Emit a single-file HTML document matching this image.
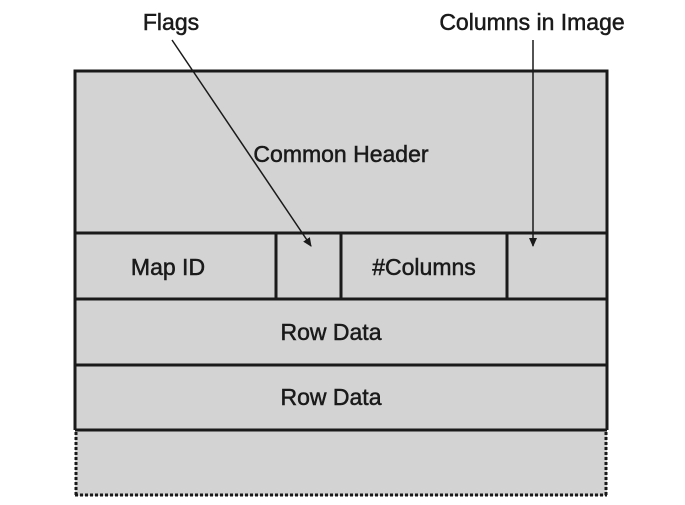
<!DOCTYPE html>
<html><head><meta charset="utf-8"><style>
html,body{margin:0;padding:0;background:#fff;}
svg{display:block}
text{font-family:"Liberation Sans",sans-serif;font-size:23px;fill:#1a1a1a;stroke:#1a1a1a;stroke-width:0.5;}
</style></head><body>
<svg width="685" height="505" viewBox="0 0 685 505">
<defs><marker id="a" markerWidth="10" markerHeight="10" refX="8" refY="4" orient="auto" markerUnits="userSpaceOnUse"><path d="M0,0 L9,4 L0,8 z" fill="#1a1a1a"/></marker></defs>
<rect x="75" y="71" width="532" height="425" fill="#d3d3d3"/>
<g stroke="#1a1a1a" stroke-width="3" fill="none">
<path d="M75,430 L75,71 L607,71 L607,430"/>
<line x1="75" y1="233" x2="607" y2="233"/>
<line x1="75" y1="299" x2="607" y2="299"/>
<line x1="75" y1="365" x2="607" y2="365"/>
<line x1="75" y1="430" x2="607" y2="430"/>
<line x1="276" y1="233" x2="276" y2="299"/>
<line x1="341" y1="233" x2="341" y2="299"/>
<line x1="507" y1="233" x2="507" y2="299"/>
</g>
<g stroke="#1a1a1a" stroke-width="3" stroke-dasharray="3,2" fill="none">
<line x1="76" y1="432" x2="76" y2="495"/>
<line x1="606" y1="432" x2="606" y2="495"/>
<line x1="75" y1="495" x2="607" y2="495"/>
</g>
<g stroke="#1a1a1a" stroke-width="1.5">
<line x1="172" y1="40" x2="311" y2="246" marker-end="url(#a)"/>
<line x1="533" y1="40" x2="533" y2="246" marker-end="url(#a)"/>
</g>
<g text-anchor="middle">
<text x="171" y="30">Flags</text>
<text x="532" y="30">Columns in Image</text>
<text x="341" y="162">Common Header</text>
<text x="168" y="275">Map ID</text>
<text x="424" y="275">#Columns</text>
<text x="331" y="340">Row Data</text>
<text x="331" y="405">Row Data</text>
</g>
</svg>
</body></html>
